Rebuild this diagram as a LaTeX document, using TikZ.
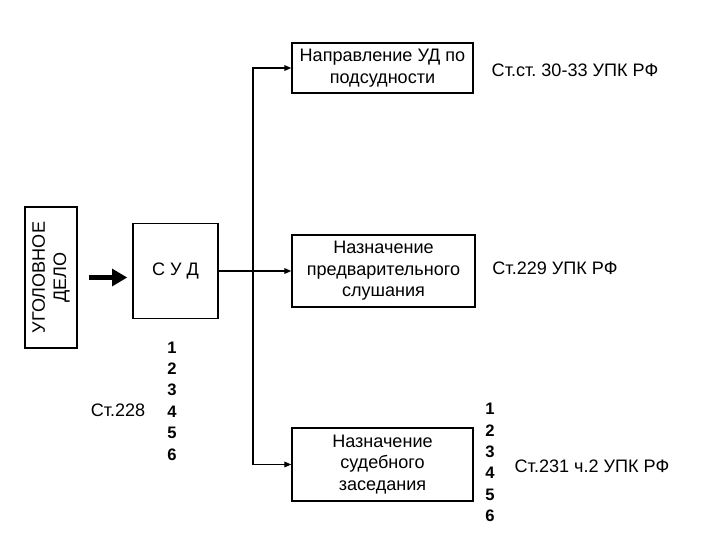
\documentclass[tikz,border=0pt]{standalone}
\usepackage{fontspec}
\setmainfont{Liberation Sans}
\usetikzlibrary{arrows.meta}
\frenchspacing
\tikzset{
  stage/.style={draw,line width=1.2pt,align=center,inner sep=0pt,
    font=\fontsize{13.6}{16.1}\selectfont},
  note/.style={align=center,font=\fontsize{13.6}{16.1}\selectfont},
  nums/.style={align=center,font=\fontsize{12.5}{16.1}\selectfont\bfseries},
  link/.style={line width=0.8pt,-{Triangle[length=1.8mm,width=1.5mm]}}
}
\begin{document}
\begin{tikzpicture}
      \useasboundingbox (0,0) rectangle (19.05,14.2875);
      \draw
        (1.349, 6.945) node[stage,rotate=90,minimum width=3.73cm,minimum height=1.376cm] (case){УГОЛОВНОЕ\\ДЕЛО}
        (4.643, 7.117) node[stage,minimum width=2.249cm,minimum height=2.514cm] (court){С У Д}
        (10.120, 12.488) node[stage,minimum width=4.789cm,minimum height=1.323cm] (0){Направление УД по\\подсудности}
        (10.147, 7.117) node[stage,minimum width=4.842cm,minimum height=1.905cm] (1){Назначение\\предварительного\\слушания}
        (10.120, 1.998) node[stage,minimum width=4.789cm,minimum height=1.931cm] (2){Назначение\\судебного\\заседания}
        (15.213, 12.435) node[note] (law0){Ст.ст. 30-33 УПК РФ}
        (14.684, 7.197) node[note] (law1){Ст.229 УПК РФ}
        (15.663, 1.958) node[note] (law2){Ст.231 ч.2 УПК РФ}
        (3.122, 3.440) node[note] (law){Ст.228}
        (4.551, 3.678) node[nums] (list){1\\2\\3\\4\\5\\6}
        (12.964, 2.050) node[nums] (list2){1\\2\\3\\4\\5\\6};
      \coordinate (fork) at (6.694, 7.117);
      % input arrow
      \draw[line width=3.4pt,-{Triangle[length=4mm,width=4.4mm]},shorten <=0.29cm,shorten >=0.13cm]
        (case.south) -- (case.south -| court.west);
      \begin{scope}[link]
        \draw[-] (court.east) -- (fork);
        \draw (fork) |- (0.west);
        \draw (fork) -- (1.west);
        \draw (fork) |- (2.west);
      \end{scope}
    \end{tikzpicture}
\end{document}
